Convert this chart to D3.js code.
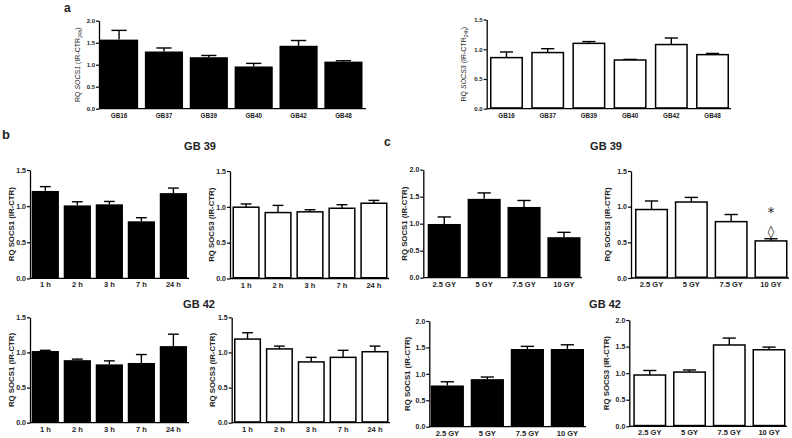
<!DOCTYPE html>
<html><head><meta charset="utf-8">
<script src="https://cdn.jsdelivr.net/npm/d3@7"></script>
<style>
html,body{margin:0;padding:0;background:#fff;}
svg{display:block;font-family:"Liberation Sans",Arial,sans-serif;}
</style></head>
<body><svg id="c" width="792" height="438"></svg>
<script>
// ---- data ----
const aGroups = ["GB16","GB37","GB39","GB40","GB42","GB48"];
const aSocs1 = [1.57,1.30,1.17,0.96,1.43,1.07];
const aSocs1Err = [0.21,0.08,0.04,0.07,0.12,0.02];
const aSocs3 = [0.86,0.945,1.10,0.82,1.08,0.91];
const aSocs3Err = [0.095,0.065,0.03,0.01,0.11,0.02];

const hours = ["1 h","2 h","3 h","7 h","24 h"];
const gb39Socs1Time = [1.21,1.01,1.025,0.79,1.18];
const gb39Socs1TimeErr = [0.06,0.05,0.04,0.05,0.07];
const gb39Socs3Time = [0.995,0.92,0.93,0.98,1.05];
const gb39Socs3TimeErr = [0.045,0.10,0.03,0.05,0.04];
const gb42Socs1Time = [1.02,0.89,0.83,0.85,1.09];
const gb42Socs1TimeErr = [0.01,0.015,0.05,0.12,0.17];
const gb42Socs3Time = [1.19,1.05,0.865,0.93,1.01];
const gb42Socs3TimeErr = [0.09,0.04,0.065,0.10,0.08];

const doses = ["2.5 GY","5 GY","7.5 GY","10 GY"];
const gb39Socs1Dose = [0.995,1.46,1.31,0.75];
const gb39Socs1DoseErr = [0.13,0.11,0.12,0.09];
const gb39Socs3Dose = [0.96,1.065,0.79,0.52];
const gb39Socs3DoseErr = [0.12,0.065,0.10,0.03];
const gb42Socs1Dose = [0.78,0.90,1.47,1.47];
const gb42Socs1DoseErr = [0.07,0.04,0.05,0.08];
const gb42Socs3Dose = [0.965,1.02,1.53,1.44];
const gb42Socs3DoseErr = [0.085,0.04,0.13,0.05];

const ticks15 = [0,0.5,1.0,1.5];
const ticks20 = [0,0.5,1.0,1.5,2.0];

// ---- drawing ----
const svg = d3.select("#c");

function panel(o){
  const g = svg.append("g");
  const y = d3.scaleLinear().domain([0, o.ticks[o.ticks.length-1]]).range([o.y0, o.yTop]);
  const x = d3.scaleBand().domain(o.cats).range([o.bx0, o.bx1]).paddingInner(o.pad).paddingOuter(0);
  const data = o.cats.map((c,i)=>({c, v:o.vals[i], e:o.errs[i]}));
  g.selectAll("line.err").data(data).enter().append("line")
    .attr("x1", d=>x(d.c)+x.bandwidth()/2).attr("x2", d=>x(d.c)+x.bandwidth()/2)
    .attr("y1", d=>y(d.v)).attr("y2", d=>y(d.v+d.e))
    .attr("stroke","#000").attr("stroke-width",1.4);
  g.selectAll("line.cap").data(data).enter().append("line")
    .attr("x1", d=>x(d.c)+x.bandwidth()*0.3).attr("x2", d=>x(d.c)+x.bandwidth()*0.7)
    .attr("y1", d=>y(d.v+d.e)).attr("y2", d=>y(d.v+d.e))
    .attr("stroke","#000").attr("stroke-width",1.4);
  const sw = o.filled ? 0 : 1.5;
  g.selectAll("rect").data(data).enter().append("rect")
    .attr("x", d=>x(d.c)+sw/2).attr("width", x.bandwidth()-sw)
    .attr("y", d=>y(d.v)).attr("height", d=>o.y0 - y(d.v) - sw/2)
    .attr("fill", o.filled ? "#000" : "#fff")
    .attr("stroke", o.filled ? "none" : "#000").attr("stroke-width", sw);
  const ax = g.append("g").attr("transform",`translate(${o.ax},0)`)
    .call(d3.axisLeft(y).tickValues(o.ticks).tickSize(3).tickSizeOuter(0).tickFormat(d3.format(".1f")));
  ax.select(".domain").attr("stroke-width",1.3);
  ax.selectAll(".tick line").attr("stroke-width",1.2);
  ax.selectAll(".tick text").attr("x",-4).attr("font-size",o.tfs).attr("font-weight","bold")
    .attr("font-family","Liberation Sans, Arial, sans-serif").attr("fill","#222");
  g.append("line").attr("x1",o.ax).attr("x2",o.axEnd).attr("y1",o.y0).attr("y2",o.y0)
    .attr("stroke","#000").attr("stroke-width",1.3);
  g.selectAll("text.xl").data(o.cats).enter().append("text")
    .attr("x", d=>x(d)+x.bandwidth()/2).attr("y", o.y0 + o.xly)
    .attr("text-anchor","middle").attr("font-size",o.xfs).attr("font-weight","bold").attr("fill","#222")
    .text(d=>d);
  const yl = g.append("text").attr("transform",`translate(${o.ylx},${(o.y0+o.yTop)/2}) rotate(-90)`)
    .attr("text-anchor","middle").attr("font-size",o.yfs).attr("font-weight", o.ylBold?"bold":"normal").attr("fill","#222");
  if (o.gene){
    yl.append("tspan").text("RQ ");
    yl.append("tspan").attr("font-style","italic").text(o.gene);
    yl.append("tspan").text(" (IR-CTR");
    yl.append("tspan").attr("font-size",o.yfs*0.7).attr("dy",2).text("24h");
    yl.append("tspan").attr("dy",-2).text(")");
  } else {
    yl.text(o.ylabel);
  }
  return {x,y,g};
}

// panel a
panel({cats:aGroups, vals:aSocs1, errs:aSocs1Err, ticks:ticks20, y0:108.7, yTop:20.7,
  ax:99, axEnd:366, bx0:100, bx1:362.5, pad:0.15, filled:true, tfs:6, xfs:6.3, xly:9, ylx:80, yfs:7, gene:"SOCS1"});
panel({cats:aGroups, vals:aSocs3, errs:aSocs3Err, ticks:ticks15, y0:108.7, yTop:19.6,
  ax:486.7, axEnd:731, bx0:490, bx1:729, pad:0.2, filled:false, tfs:6, xfs:6.3, xly:9, ylx:466, yfs:7, gene:"SOCS3"});

// panel b
panel({cats:hours, vals:gb39Socs1Time, errs:gb39Socs1TimeErr, ticks:ticks15, y0:278.4, yTop:170,
  ax:30, axEnd:189, bx0:31.7, bx1:187, pad:0.15, filled:true, tfs:7, xfs:7.5, xly:9, ylx:14, yfs:7.8, ylBold:true, ylabel:"RQ SOCS1 (IR-CTR)"});
panel({cats:hours, vals:gb39Socs3Time, errs:gb39Socs3TimeErr, ticks:ticks15, y0:278.5, yTop:171,
  ax:230, axEnd:389, bx0:232.5, bx1:387.5, pad:0.15, filled:false, tfs:7, xfs:7.5, xly:9, ylx:214, yfs:7.8, ylBold:true, ylabel:"RQ SOCS3 (IR-CTR)"});
panel({cats:hours, vals:gb42Socs1Time, errs:gb42Socs1TimeErr, ticks:ticks15, y0:422.7, yTop:317.3,
  ax:30, axEnd:189, bx0:31.7, bx1:187, pad:0.15, filled:true, tfs:7, xfs:7.5, xly:9, ylx:14, yfs:7.8, ylBold:true, ylabel:"RQ SOCS1 (IR-CTR)"});
panel({cats:hours, vals:gb42Socs3Time, errs:gb42Socs3TimeErr, ticks:ticks15, y0:422.7, yTop:317.3,
  ax:231.7, axEnd:390, bx0:234, bx1:388.5, pad:0.15, filled:false, tfs:7, xfs:7.5, xly:9, ylx:215, yfs:7.8, ylBold:true, ylabel:"RQ SOCS3 (IR-CTR)"});

// panel c
panel({cats:doses, vals:gb39Socs1Dose, errs:gb39Socs1DoseErr, ticks:ticks20, y0:277.7, yTop:169.7,
  ax:423.3, axEnd:582, bx0:427.7, bx1:580.5, pad:0.17, filled:true, tfs:7, xfs:7.5, xly:9, ylx:407, yfs:7.8, ylBold:true, ylabel:"RQ SOCS1 (IR-CTR)"});
const c2 = panel({cats:doses, vals:gb39Socs3Dose, errs:gb39Socs3DoseErr, ticks:ticks15, y0:278, yTop:171,
  ax:631, axEnd:789, bx0:635, bx1:787.5, pad:0.17, filled:false, tfs:7, xfs:7.5, xly:9, ylx:610, yfs:7.8, ylBold:true, ylabel:"RQ SOCS3 (IR-CTR)"});
panel({cats:doses, vals:gb42Socs1Dose, errs:gb42Socs1DoseErr, ticks:ticks20, y0:426.7, yTop:321,
  ax:429.3, axEnd:586, bx0:430.7, bx1:584, pad:0.17, filled:true, tfs:7, xfs:7.5, xly:9, ylx:410, yfs:7.8, ylBold:true, ylabel:"RQ SOCS1 (IR-CTR)"});
panel({cats:doses, vals:gb42Socs3Dose, errs:gb42Socs3DoseErr, ticks:ticks20, y0:426.3, yTop:320,
  ax:629.3, axEnd:787, bx0:633.3, bx1:785.5, pad:0.17, filled:false, tfs:7, xfs:7.5, xly:9, ylx:609, yfs:7.8, ylBold:true, ylabel:"RQ SOCS3 (IR-CTR)"});

// significance marks on 10 GY (GB39 SOCS3)
const cx = c2.x("10 GY") + c2.x.bandwidth()/2;
const topErr = c2.y(gb39Socs3Dose[3] + gb39Socs3DoseErr[3]);
svg.append("text").attr("x",cx).attr("y",topErr-22).attr("text-anchor","middle")
  .attr("font-size",14).attr("font-family","DejaVu Sans, sans-serif").attr("fill","#222").text("*");
svg.append("text").attr("x",cx).attr("y",topErr-3).attr("text-anchor","middle")
  .attr("font-size",13).attr("font-family","DejaVu Sans, sans-serif").attr("fill","#222").text("\u25CA");

// panel letters and titles
const T = [["a",64,12,12],["b",2,139,13],["c",384,146,12]];
T.forEach(t=>svg.append("text").attr("x",t[1]).attr("y",t[2]).attr("font-size",t[3]).attr("font-weight","bold").attr("fill","#222").text(t[0]));
const titles = [["GB 39",200,150],["GB 42",199,308],["GB 39",606,150],["GB 42",605,308]];
titles.forEach(t=>svg.append("text").attr("x",t[1]).attr("y",t[2]).attr("text-anchor","middle")
  .attr("font-size",11).attr("font-weight","bold").attr("fill","#222").text(t[0]));
</script></body></html>
